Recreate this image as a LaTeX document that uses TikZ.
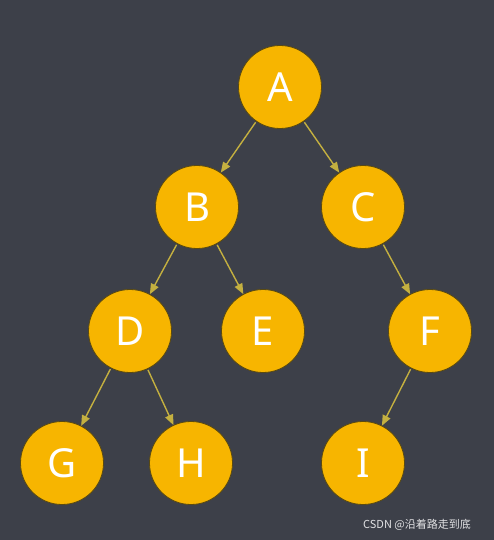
\documentclass[tikz,border=0pt]{standalone}
\usepackage{fontspec}
\setmainfont{Noto Sans}
\newfontfamily\cjk{Noto Sans CJK SC}
\usepackage{tikz}
\usetikzlibrary{arrows}
\definecolor{bgcol}{HTML}{3D4049}
\definecolor{nodecol}{HTML}{F7B500}
\definecolor{rimcol}{HTML}{5A4A10}
\definecolor{edgecol}{HTML}{C4B040}
\tikzset{x=1pt,y=-1pt,
  vert/.style={circle,fill=nodecol,draw=rimcol,line width=0.8pt,minimum size=83pt,inner sep=0pt,
    text=white,font=\fontsize{40}{40}\selectfont},
  link/.style={-triangle 45,color=edgecol,line width=1.4pt,shorten >=0pt,shorten <=1pt}}

\begin{document}
\begin{tikzpicture}
    \fill[bgcol] (0,0) rectangle (494,540);
    \node[vert] (A) at (280,87) {A};
    \node[vert] (B) at (197,207) {B};
    \node[vert] (C) at (363,207) {C};
    \node[vert] (D) at (130,331) {D};
    \node[vert] (E) at (263,331) {E};
    \node[vert] (F) at (430,331) {F};
    \node[vert] (G) at (62,463) {G};
    \node[vert] (H) at (191,463) {H};
    \node[vert] (I) at (363,463) {I};
    \path[link]
    (A) edge (B)
    (A) edge (C)
    (B) edge (D)
    (B) edge (E)
    (C) edge (F)
    (D) edge (G)
    (D) edge (H)
    (F) edge (I)
    ;
    \node[text=white!85!bgcol,font=\cjk\fontsize{11}{11}\selectfont] (mark) at (417,525) {CSDN @沿着路走到底};
\end{tikzpicture}
\end{document}
